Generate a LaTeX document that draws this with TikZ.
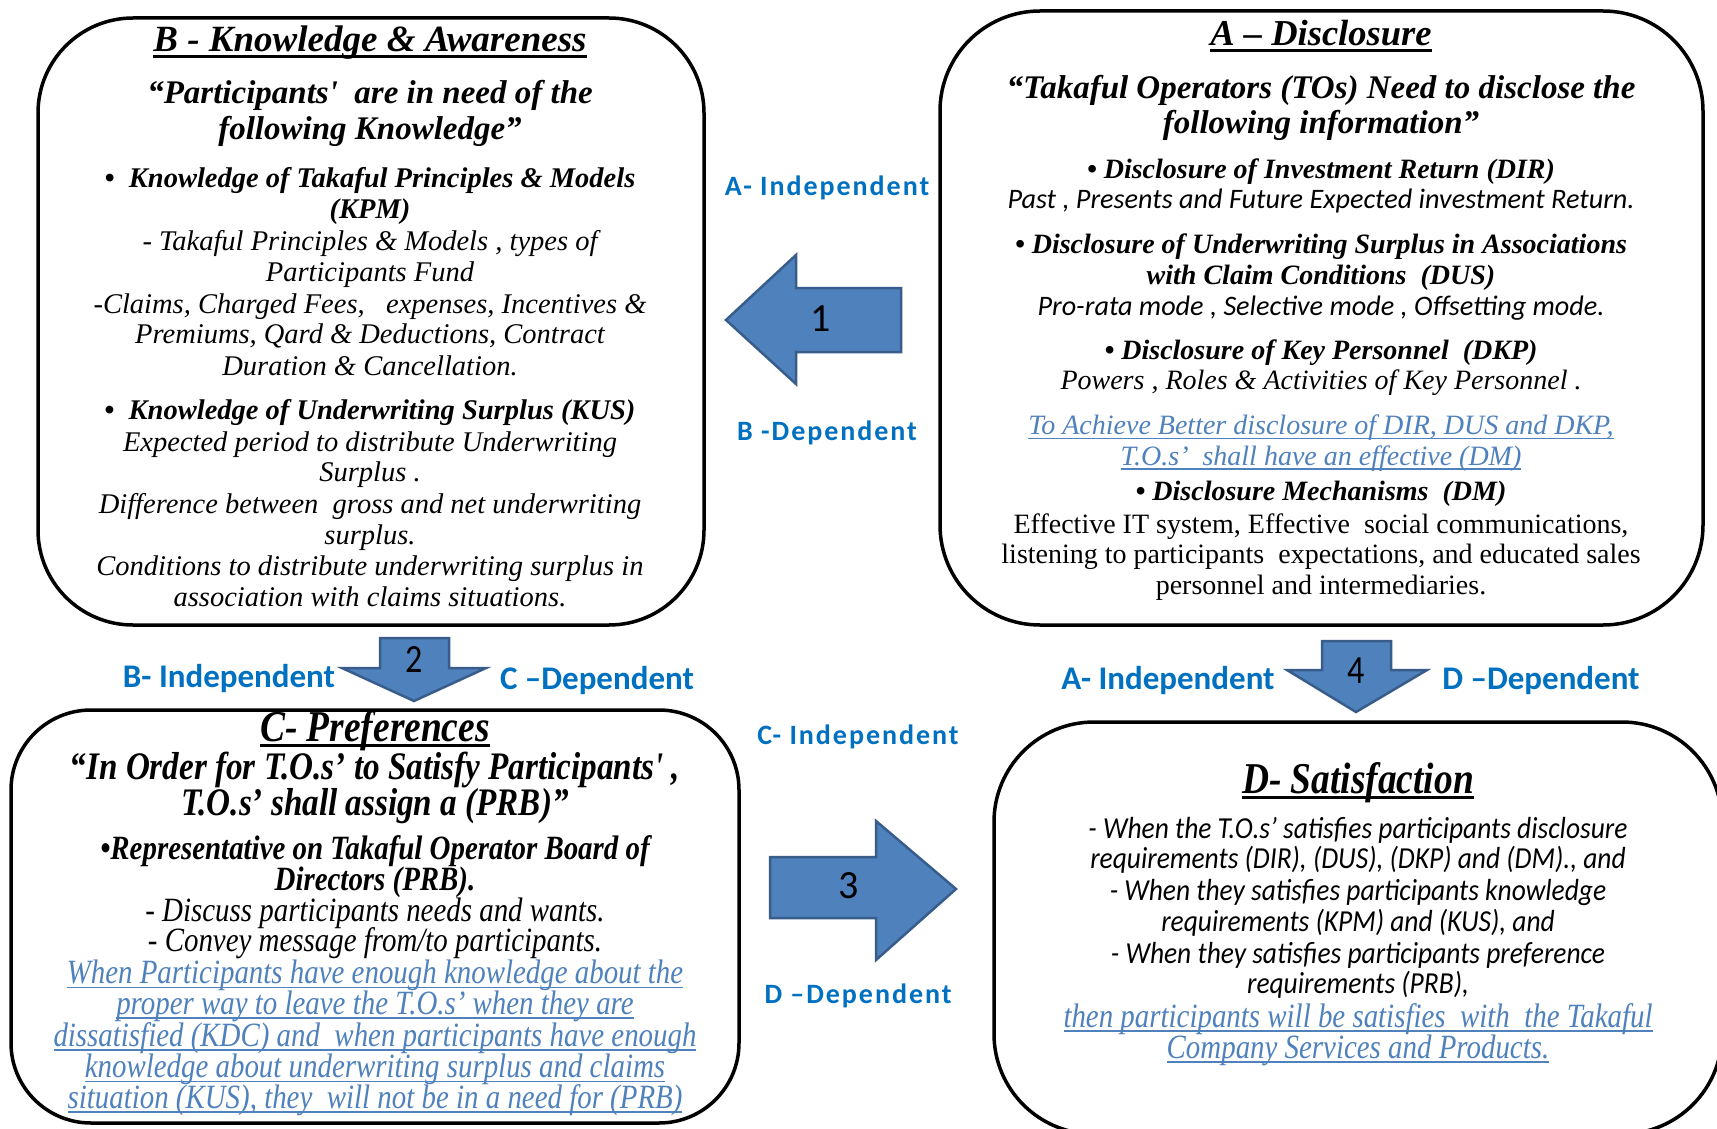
\documentclass[tikz,border=0pt]{standalone}
\usepackage{fontspec}
\setmainfont{Liberation Serif}
\newfontfamily\plainser{Liberation Serif}
\newfontfamily\calfont{Carlito}
\newfontfamily\condser[FakeStretch=0.85]{Liberation Serif}
\newfontfamily\condcal[FakeStretch=0.9]{Carlito}
\newfontfamily\numcal[FakeStretch=0.85]{Carlito}
\newfontfamily\spcal[LetterSpace=7]{Carlito}
\definecolor{labblue}{RGB}{0,112,192}
\definecolor{ulblue}{RGB}{79,129,189}
\definecolor{arrfill}{RGB}{79,129,189}
\definecolor{arrline}{RGB}{56,93,138}
\newcommand\fsz[1]{\fontsize{#1}{#1}\selectfont}
\newcommand\bi{\bfseries\itshape}
\newcommand\ulin[3]{{\setbox0\hbox{#3}\rlap{\rule[-#1]{\wd0}{#2}}\box0}}
\newcommand\bl[1]{\color{ulblue}\itshape\ulin{4.5pt}{1.6pt}{#1}}
\tikzset{
  ln/.style={anchor=base, inner sep=0pt, font=\fsz{#1}, yshift={-0.27*#1}},
  rbox/.style={draw, rectangle, line width=3.5pt, rounded corners=#1, inner sep=0pt},
  barrow/.style={fill=arrfill, draw=arrline, line width=2.5pt, line join=miter},
  labsp/.style={ln=28, text=labblue, font=\fsz{28}\spcal\bfseries},
  labbig/.style={ln=33, text=labblue, font=\fsz{33}\calfont\bfseries},
  num/.style={anchor=base, inner sep=0pt, font=\fsz{40}\calfont, yshift=-13},
}
\begin{document}
\begin{tikzpicture}[x=1pt,y=-1pt]
\useasboundingbox (0,0) rectangle (1717,1129);
\clip (0,0) rectangle (1717,1129);
\fill[white] (0,0) rectangle (1717,1129);

% ---------- Box B ----------
\node[rbox=95, minimum width=666, minimum height=607] (boxB) at (371,321.5) {};
\node[ln=37] (bT) at (370,41.6) {\bi\ulin{6pt}{3pt}{B - Knowledge \& Awareness}};
\node[ln=33] (bQ1) at (370,94.2) {\bi “Participants{\plainser'}\ \ are in need of the};
\node[ln=33] (bQ2) at (370,130.3) {\bi following Knowledge”};
\node[ln=28.5] (bK1) at (370,179.6) {\bi •\ \ Knowledge of Takaful Principles \& Models};
\node[ln=28.5] (bK2) at (370,211.3) {\bi (KPM)};
\node[ln=28.5] (bK3) at (370,243.1) {\itshape - Takaful Principles \& Models , types of};
\node[ln=28.5] (bK4) at (370,273.8) {\itshape Participants Fund};
\node[ln=28.5] (bK5) at (370,305.5) {\itshape -Claims, Charged Fees,\ \ \ expenses, Incentives \&};
\node[ln=28.5] (bK6) at (370,336.2) {\itshape Premiums, Qard \& Deductions, Contract};
\node[ln=28.5] (bK7) at (370,367.9) {\itshape Duration \& Cancellation.};
\node[ln=28.5] (bU1) at (370,411.7) {\bi •\ \ Knowledge of Underwriting Surplus (KUS)};
\node[ln=28.5] (bU2) at (370,443.5) {\itshape Expected period to distribute Underwriting};
\node[ln=28.5] (bU3) at (370,474.1) {\itshape Surplus .};
\node[ln=28.5] (bU4) at (370,505.9) {\itshape Difference between\ \ gross and net underwriting};
\node[ln=28.5] (bU5) at (370,536.6) {\itshape surplus.};
\node[ln=28.5] (bU6) at (370,568.3) {\itshape Conditions to distribute underwriting surplus in};
\node[ln=28.5] (bU7) at (370,599.0) {\itshape association with claims situations.};

% ---------- Box A ----------
\node[rbox=100, minimum width=763, minimum height=614] (boxA) at (1321.5,318) {};
\node[ln=36.5] (aT) at (1321,36.1) {\bi\ulin{6pt}{3pt}{A – Disclosure}};
\node[ln=33] (aQ1) at (1321,89.5) {\bi “Takaful Operators (TOs) Need to disclose the};
\node[ln=33] (aQ2) at (1321,124.5) {\bi following information”};
\node[ln=28] (aD1) at (1321,170.8) {\bi • Disclosure of Investment Return (DIR)};
\node[ln=28.2] (aD2) at (1321,200.4) {\calfont\itshape Past , Presents and Future Expected investment Return.};
\node[ln=28] (aD3) at (1321,246.4) {\bi • Disclosure of Underwriting Surplus in Associations};
\node[ln=28] (aD4) at (1321,277.0) {\bi with Claim Conditions\ \ (DUS)};
\node[ln=28.2] (aD5) at (1321,307.7) {\calfont\itshape Pro-rata mode , Selective mode , Offsetting mode.};
\node[ln=28] (aD6) at (1321,351.5) {\bi • Disclosure of Key Personnel\ \ (DKP)};
\node[ln=28] (aD7) at (1321,382.2) {\itshape Powers , Roles \& Activities of Key Personnel .};
\node[ln=28] (aL1) at (1321,427.1) {\bl{To Achieve Better disclosure of DIR, DUS and DKP,}};
\node[ln=28] (aL2) at (1321,457.7) {\bl{T.O.s’\ \ shall have an effective (DM)}};
\node[ln=28] (aD8) at (1321,492.8) {\bi • Disclosure Mechanisms\ \ (DM)};
\node[ln=28] (aD9) at (1321,525.6) {Effective IT system, Effective\ \ social communications,};
\node[ln=28] (aD10) at (1321,556.3) {listening to participants\ \ expectations, and educated sales};
\node[ln=28] (aD11) at (1321,586.9) {personnel and intermediaries.};

% ---------- Box C ----------
\node[rbox=80, minimum width=728, minimum height=413] (boxC) at (375,916.5) {};
\node[ln=44] (cT) at (375,729.3) {\condser\bi\ulin{6pt}{3pt}{C- Preferences}};
\node[ln=39] (cQ1) at (375,768.7) {\condser\bi “In Order for T.O.s’ to Satisfy Participants' ,};
\node[ln=39] (cQ2) at (375,804.8) {\condser\bi T.O.s’ shall assign a (PRB)”};
\node[ln=34] (cR1) at (375,850.8) {\condser\bi •Representative on Takaful Operator Board of};
\node[ln=34] (cR2) at (375,881.5) {\condser\bi Directors (PRB).};
\node[ln=34] (cR3) at (375,912.2) {\condser\itshape - Discuss participants needs and wants.};
\node[ln=34] (cR4) at (375,942.8) {\condser\itshape - Convey message from/to participants.};
\node[ln=34] (cL1) at (375,974.6) {\condser\bl{When Participants have enough knowledge about the}};
\node[ln=34] (cL2) at (375,1005.2) {\condser\bl{proper way to leave the T.O.s’ when they are}};
\node[ln=34] (cL3) at (375,1037.0) {\condser\bl{dissatisfied (KDC) and\ \ when participants have enough}};
\node[ln=34] (cL4) at (375,1068.7) {\condser\bl{knowledge about underwriting surplus and claims}};
\node[ln=34] (cL5) at (375,1099.4) {\condser\bl{situation (KUS), they\ \ will not be in a need for (PRB)}};

% ---------- Box D ----------
\node[rbox=100, minimum width=728, minimum height=412] (boxD) at (1358,928) {};
\node[ln=44] (dT) at (1358,781.5) {\condser\bi\ulin{6pt}{3pt}{D- Satisfaction}};
\node[ln=30.5] (dS1) at (1358,830.0) {\condcal\itshape - When the T.O.s’ satisfies participants disclosure};
\node[ln=30.5] (dS2) at (1358,860.7) {\condcal\itshape requirements (DIR), (DUS), (DKP) and (DM)., and};
\node[ln=30.5] (dS3) at (1358,892.4) {\condcal\itshape - When they satisfies participants knowledge};
\node[ln=30.5] (dS4) at (1358,923.1) {\condcal\itshape requirements (KPM) and (KUS), and};
\node[ln=30.5] (dS5) at (1358,954.8) {\condcal\itshape - When they satisfies participants preference};
\node[ln=30.5] (dS6) at (1358,985.5) {\condcal\itshape requirements (PRB),};
\node[ln=34] (dL1) at (1358,1018.4) {\condser\bl{then participants will be satisfies\ \ with\ \ the Takaful}};
\node[ln=34] (dL2) at (1358,1049.0) {\condser\bl{Company Services and Products.}};

% ---------- Block arrows ----------
\draw[barrow] (726,320) -- (796,255) -- (796,288) -- (901,288) -- (901,352) -- (796,352) -- (796,384) -- cycle;
\draw[barrow] (414,701) -- (342,668) -- (380,668) -- (380,638) -- (449,638) -- (449,668) -- (486,668) -- cycle;
\draw[barrow] (956,889) -- (876,821) -- (876,857) -- (770,857) -- (770,918) -- (876,918) -- (876,960) -- cycle;
\draw[barrow] (1356,712) -- (1287,670) -- (1322,670) -- (1322,641) -- (1391,641) -- (1391,670) -- (1427,670) -- cycle;
\node[num] (n1) at (821,318) {1};
\node[num, font=\fsz{40}\numcal] (n2) at (414,659) {2};
\node[num] (n3) at (849,885) {3};
\node[num, font=\fsz{40}\numcal] (n4) at (1356,670) {4};

% ---------- Labels ----------
\node[labsp] (l1) at (827,188) {A- Independent};
\node[labsp] (l2) at (827,433) {B -Dependent};
\node[labsp] (l3) at (858,737) {C- Independent};
\node[labsp] (l4) at (858,996) {D –Dependent};
\node[labbig] (l5) at (229,679) {B- Independent};
\node[labbig] (l6) at (597,681) {C –Dependent};
\node[labbig] (l7) at (1168,681) {A- Independent};
\node[labbig] (l8) at (1541,681) {D –Dependent};
\end{tikzpicture}
\end{document}
